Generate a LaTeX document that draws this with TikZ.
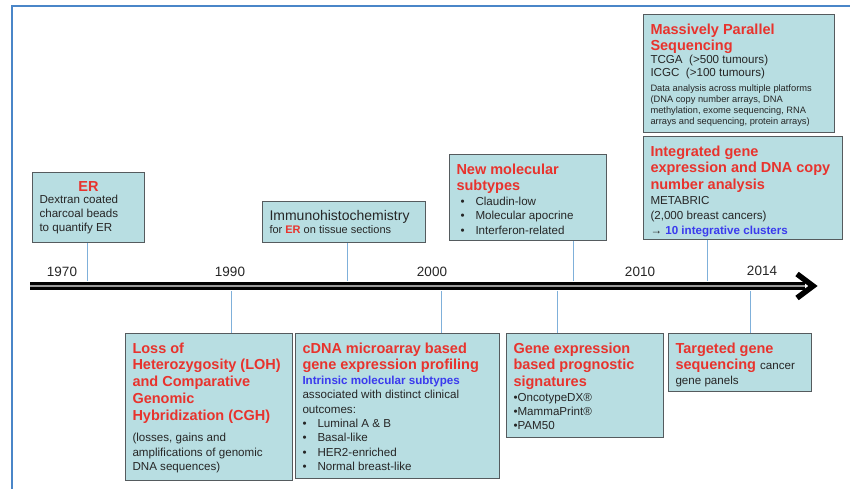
\documentclass[tikz,border=0pt]{standalone}
\usepackage{fontspec}
\setmainfont{Liberation Sans}
\usepackage{xcolor}
\usepackage{tikz}
\usetikzlibrary{positioning}

\definecolor{boxfill}{HTML}{B8DEE2}
\definecolor{boxline}{HTML}{555B5E}
\definecolor{headred}{HTML}{E8332D}
\definecolor{subblue}{HTML}{3A3AEE}
\definecolor{tickblue}{HTML}{7FB0DA}
\definecolor{frameblue}{HTML}{4A86C8}

\newcommand{\headfont}{\fontsize{14.5}{16.8}\selectfont\bfseries\color{headred}}
\newcommand{\bodyfont}{\fontsize{11.6}{14.4}\selectfont\mdseries\color{black!85}}
\newcommand{\smallfont}{\fontsize{9.3}{11}\selectfont\mdseries\color{black!85}}
\newcommand{\bul}{\makebox[15pt][l]{\textbullet}}
% text block of fixed size, set from its top
\newcommand{\evbox}[3]{\parbox[c][#2][t]{#1}{\raggedright\vspace*{4pt}#3}}

\tikzset{
  event/.style={draw=boxline, line width=1pt, fill=boxfill, anchor=north west,
    inner xsep=7pt, inner ysep=5pt, text=black!85},
  tick/.style={draw=tickblue, line width=1pt},
  year/.style={font=\fontsize{13.5}{16}\selectfont, text=black!85}
}

\begin{document}
\begin{tikzpicture}[x=1pt, y=-1pt]

  \useasboundingbox (0,0) rectangle (850,488);
  \draw[frameblue, line width=1.5pt] (12,489) -- (12,6) -- (851,6);

  % Define nodes
  \node[event] (er) at (32,172) {\evbox{98pt}{60pt}{%
    \headfont\makebox[98pt][c]{ER}\\[-1.5pt]
    \fontsize{11.6}{14}\selectfont\mdseries\color{black!85} Dextran coated\\charcoal beads\\to quantify ER}};
  \node[event] (ihc) at (262,201) {\evbox{149pt}{31pt}{%
    \fontsize{14}{15.5}\selectfont Immunohistochemistry\\
    \fontsize{11}{13}\selectfont for {\bfseries\color{headred}ER} on tissue sections}};
  \node[event] (newmol) at (449,154) {\evbox{143pt}{76pt}{%
    \headfont New molecular\\subtypes\\
    \bodyfont \hspace*{4pt}\bul Claudin-low\\\hspace*{4pt}\bul Molecular apocrine\\\hspace*{4pt}\bul Interferon-related}};
  \node[event] (mps) at (643,14) {\evbox{177pt}{108pt}{%
    \headfont Massively Parallel\\Sequencing\\
    \fontsize{11.6}{12.6}\selectfont\mdseries\color{black!85} TCGA\ \ (>500 tumours)\\ICGC\ \ (>100 tumours)\\[4.5pt]
    \smallfont Data analysis across multiple platforms\\(DNA copy number arrays, DNA\\methylation,\ exome sequencing, RNA\\arrays and sequencing, protein arrays)}};
  \node[event, below=3pt of mps.south west, anchor=north west] (integ) {\evbox{185pt}{93pt}{%
    \headfont Integrated gene\\expression and DNA copy\\number analysis\\
    \fontsize{11.6}{15}\selectfont\mdseries\color{black!85} METABRIC\\(2,000 breast cancers)\\→ {\bfseries\color{subblue}10 integrative clusters}}};
  \node[event] (loh) at (125,333) {\evbox{153pt}{137pt}{%
    \headfont Loss of\\Heterozygosity (LOH)\\and Comparative\\Genomic\\Hybridization (CGH)\\[7pt]
    \bodyfont (losses, gains and\\amplifications of genomic\\DNA sequences)}};
  \node[event] (cdna) at (295,333) {\evbox{190pt}{135pt}{%
    \headfont cDNA microarray based\\gene expression profiling\\
    \bodyfont{\bfseries\color{subblue}Intrinsic molecular subtypes}\\
    associated with distinct clinical\\outcomes:\\
    \bul Luminal A \& B\\\bul Basal-like\\\bul HER2-enriched\\\bul Normal breast-like}};
  \node[event] (gep) at (506,333) {\evbox{143pt}{94pt}{%
    \headfont Gene expression\\based prognostic\\signatures\\
    \bodyfont •OncotypeDX®\\•MammaPrint®\\•PAM50}};
  \node[event] (tgs) at (668,333) {\evbox{129pt}{48pt}{%
    \headfont Targeted gene\\sequencing {\bodyfont cancer}\\
    \bodyfont gene panels}};

  % Timeline
  \coordinate (tlstart) at (30,286);
  \coordinate (tlend) at (805,286);
  \coordinate (tiptop) at (813,286);
  \draw[line width=2.6pt, double=black!40, double distance=2pt] (tlstart) -- (tlend);
  \draw[line width=5.5pt, line join=miter, line cap=butt] (797,274) -- (tiptop) -- (797,298);

  \node[year] (y1970) at (62,272) {1970};
  \node[year] (y1990) at (230,272) {1990};
  \node[year] (y2000) at (432,272) {2000};
  \node[year] (y2010) at (640,272) {2010};
  \node[year] (y2014) at (762,271) {2014};

  % Connect nodes
  \coordinate (ter) at (87,281);
  \coordinate (tihc) at (347,281);
  \coordinate (tnew) at (573,281);
  \coordinate (tint) at (707,281);
  \coordinate (tloh) at (231,291);
  \coordinate (tcdna) at (441,291);
  \coordinate (tgep) at (557,291);
  \coordinate (ttgs) at (750,291);
  \draw[tick] (er.south -| ter) -- (ter);
  \draw[tick] (ihc.south -| tihc) -- (tihc);
  \draw[tick] (newmol.south -| tnew) -- (tnew);
  \draw[tick] (integ.south -| tint) -- (tint);
  \draw[tick] (loh.north -| tloh) -- (tloh);
  \draw[tick] (cdna.north -| tcdna) -- (tcdna);
  \draw[tick] (gep.north -| tgep) -- (tgep);
  \draw[tick] (tgs.north -| ttgs) -- (ttgs);

\end{tikzpicture}
\end{document}
